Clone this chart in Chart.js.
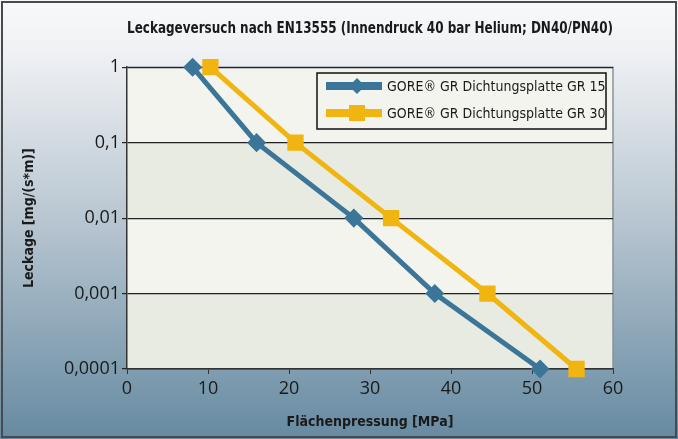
<!DOCTYPE html>
<html>
<head>
<meta charset="utf-8">
<script src="https://cdn.jsdelivr.net/npm/chart.js@4"></script>
<style>
  html, body { margin: 0; padding: 0; background: #fff; }
  #wrap { width: 678px; height: 439px; }
</style>
</head>
<body>
<div id="wrap"><canvas id="leckageChart" width="678" height="439"></canvas></div>
<script>
// Daten
const druckGR15 = [8.1, 16.0, 28.0, 38.0, 51.0];
const leckageGR15 = [1, 0.1, 0.01, 0.001, 0.0001];
const druckGR30 = [10.3, 20.8, 32.6, 44.5, 55.5];
const leckageGR30 = [1, 0.1, 0.01, 0.001, 0.0001];
const labelGR15 = "GORE® GR Dichtungsplatte GR 15";
const labelGR30 = "GORE® GR Dichtungsplatte GR 30";
const yTicks = [1, 0.1, 0.01, 0.001, 0.0001];
const yTickLabels = ["1", "0,1", "0,01", "0,001", "0,0001"];
const xTicks = [0, 10, 20, 30, 40, 50, 60];

const narrow = "'Liberation Sans Narrow', 'DejaVu Sans Condensed', 'Open Sans', sans-serif";
const tickFont = "'Open Sans', 'Noto Sans', sans-serif";

// Hintergrund, Bänder und Rahmen
const hintergrundPlugin = {
  id: "hintergrund",
  beforeDraw(chart) {
    const ctx = chart.ctx;
    const { width, height, chartArea } = chart;
    ctx.save();
    const grad = ctx.createLinearGradient(0, 0, 0, height);
    grad.addColorStop(0, "#f8f9fa");
    grad.addColorStop(0.12, "#eff1f4");
    grad.addColorStop(0.5, "#b8c6d1");
    grad.addColorStop(1, "#668aa1");
    ctx.fillStyle = grad;
    ctx.fillRect(0, 0, width, height);

    // abwechselnde Bänder je Dekade
    const y = chart.scales.y;
    for (let i = 0; i < yTicks.length - 1; i++) {
      const top = y.getPixelForValue(yTicks[i]);
      const bottom = y.getPixelForValue(yTicks[i + 1]);
      ctx.fillStyle = i % 2 === 0 ? "#f3f4ee" : "#e8ebe1";
      ctx.fillRect(chartArea.left, top, chartArea.right - chartArea.left, bottom - top);
    }
    ctx.strokeStyle = "#8a9299";
    ctx.lineWidth = 1.5;
    ctx.beginPath();
    ctx.moveTo(chartArea.left, chartArea.top);
    ctx.lineTo(chartArea.right, chartArea.top);
    ctx.lineTo(chartArea.right, chartArea.bottom);
    ctx.stroke();

    // äußerer Rahmen
    ctx.strokeStyle = "#4a4a4a";
    ctx.lineWidth = 2;
    ctx.strokeRect(2, 2, width - 4, height - 4);
    ctx.restore();
  },
};

// Legende mit Rahmen innerhalb der Zeichenfläche
const legendePlugin = {
  id: "legende",
  afterDraw(chart) {
    const ctx = chart.ctx;
    const bx = 317, by = 73, bw = 289, bh = 56;
    ctx.save();
    ctx.fillStyle = "#f3f4ee";
    ctx.fillRect(bx, by, bw, bh);
    ctx.strokeStyle = "#111";
    ctx.lineWidth = 1.5;
    ctx.strokeRect(bx, by, bw, bh);

    chart.data.datasets.forEach((ds, i) => {
      const ly = by + 13 + i * 27;
      ctx.strokeStyle = ds.borderColor;
      ctx.lineWidth = 8;
      ctx.beginPath();
      ctx.moveTo(bx + 9, ly);
      ctx.lineTo(bx + 65, ly);
      ctx.stroke();
      ctx.fillStyle = ds.borderColor;
      const cx = bx + 40;
      if (ds.pointStyle === "rectRot") {
        ctx.beginPath();
        ctx.moveTo(cx - 8, ly);
        ctx.lineTo(cx, ly - 8);
        ctx.lineTo(cx + 8, ly);
        ctx.lineTo(cx, ly + 8);
        ctx.closePath();
        ctx.fill();
      } else {
        ctx.fillRect(cx - 8, ly - 8, 16, 16);
      }
      ctx.fillStyle = "#1a1a1a";
      ctx.font = "14px " + narrow;
      ctx.textBaseline = "middle";
      ctx.textAlign = "left";
      ctx.fillText(ds.label, bx + 70, ly + 1);
    });
    ctx.restore();
  },
};

const ctxLeckage = document.getElementById("leckageChart").getContext("2d");

new Chart(ctxLeckage, {
  type: "line",
  data: {
    datasets: [
      {
        label: labelGR15,
        data: druckGR15.map((x, i) => ({ x: x, y: leckageGR15[i] })),
        borderColor: "#3b7698",
        backgroundColor: "#3b7698",
        borderWidth: 5,
        pointStyle: "rectRot",
        pointRadius: 6,
        pointHoverRadius: 6,
        tension: 0,
        clip: false,
      },
      {
        label: labelGR30,
        data: druckGR30.map((x, i) => ({ x: x, y: leckageGR30[i] })),
        borderColor: "#f1b512",
        backgroundColor: "#f1b512",
        borderWidth: 5,
        pointStyle: "rect",
        pointRadius: 8,
        pointHoverRadius: 8,
        tension: 0,
        clip: false,
      },
    ],
  },
  options: {
    responsive: false,
    animation: false,
    layout: { padding: { left: 0, right: 65, top: 0, bottom: 0 } },
    plugins: {
      legend: { display: false },
      tooltip: { enabled: false },
      title: {
        display: true,
        text: "Leckageversuch nach EN13555 (Innendruck 40 bar Helium; DN40/PN40)",
        fullSize: false,
        color: "#1a1a1a",
        font: { family: narrow, size: 16, weight: "bold", lineHeight: 1.2 },
        padding: { top: 19, bottom: 29 },
      },
    },
    scales: {
      x: {
        type: "linear",
        min: 0,
        max: 60,
        afterBuildTicks: (scale) => {
          scale.ticks = xTicks.map((v) => ({ value: v }));
        },
        afterFit: (scale) => {
          scale.height = 70;
        },
        ticks: {
          color: "#1a1a1a",
          font: { family: tickFont, size: 18 },
          padding: 4,
          maxRotation: 0,
        },
        grid: {
          drawOnChartArea: false,
          color: "#333",
          tickLength: 5,
        },
        border: { color: "#333", width: 1.5 },
        title: {
          display: true,
          text: "Flächenpressung [MPa]",
          color: "#1a1a1a",
          font: { family: narrow, size: 14, weight: "bold", lineHeight: 1.2 },
          padding: { top: 0, bottom: 8 },
        },
      },
      y: {
        type: "logarithmic",
        min: 0.0001,
        max: 1,
        afterBuildTicks: (scale) => {
          scale.ticks = yTicks.map((v) => ({ value: v }));
        },
        afterFit: (scale) => {
          scale.width = 127;
        },
        ticks: {
          color: "#1a1a1a",
          font: { family: tickFont, size: 18 },
          padding: 2,
          callback: (value, index) => yTickLabels[index],
        },
        grid: {
          color: "#222",
          lineWidth: 1.2,
          tickLength: 5,
        },
        border: { color: "#333", width: 1.5 },
        title: {
          display: true,
          text: "Leckage [mg/(s*m)]",
          color: "#1a1a1a",
          font: { family: narrow, size: 14, weight: "bold", lineHeight: 1.2 },
          padding: { top: 21, bottom: 0 },
        },
      },
    },
  },
  plugins: [hintergrundPlugin, legendePlugin],
});
</script>
</body>
</html>
